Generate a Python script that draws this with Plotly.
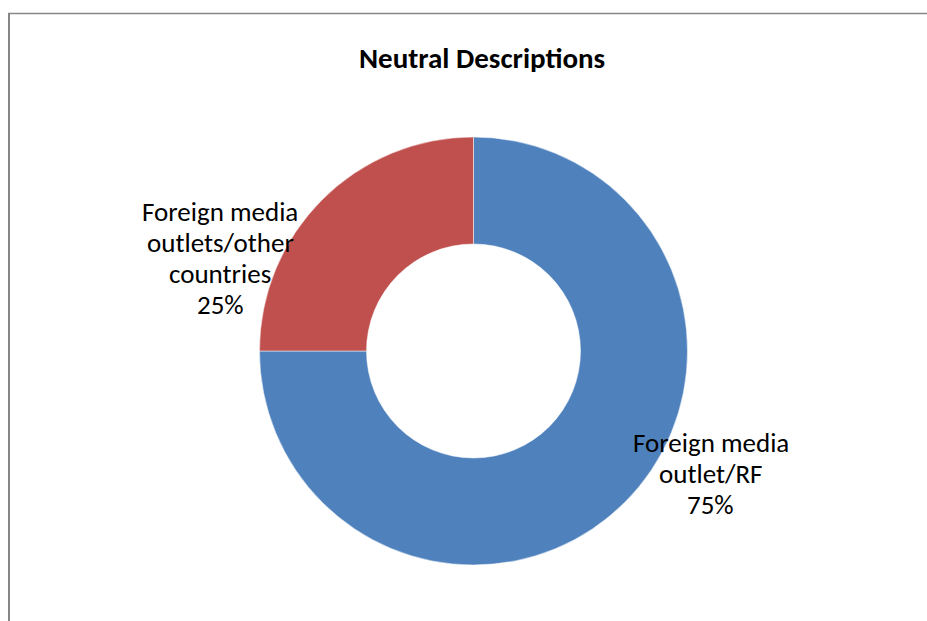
import plotly.graph_objects as go

# Share of neutral descriptions by source
categories = ["Foreign media|outlet/RF", "Foreign media|outlets/other|countries"]
values = [75, 25]
colors = ["#4F81BD", "#C0504D"]
title = "Neutral Descriptions"

W, H = 927, 621
FONT = "Carlito, Lato, 'Liberation Sans', sans-serif"
LINE_GAP = 31  # pixel distance between label lines

# Pie placement (pixel centre and radius) converted to paper fractions
cx, cy, r = 473.5, 351, 214
domain_x = [(cx - r) / W, (cx + r) / W]
domain_y = [(H - cy - r) / H, (H - cy + r) / H]

fig = go.Figure(
    go.Pie(
        labels=[c.replace("|", " ") for c in categories],
        values=values,
        hole=0.5,
        sort=False,
        direction="clockwise",
        rotation=0,
        marker=dict(colors=colors, line=dict(color="white", width=0.5)),
        textinfo="none",
        hoverinfo="label+percent",
        domain=dict(x=domain_x, y=domain_y),
        showlegend=False,
    )
)

# Outside labels beside each slice, one annotation per text line
total = sum(values)
label_pos = [(710.5, 473), (220, 258)]
annotations = []
for name, v, (px, py) in zip(categories, values, label_pos):
    lines = name.split("|") + [f"{round(100 * v / total)}%"]
    top = py - LINE_GAP * (len(lines) - 1) / 2
    for i, line in enumerate(lines):
        annotations.append(
            dict(
                text=line,
                x=px / W,
                y=1 - (top + i * LINE_GAP) / H,
                xref="paper",
                yref="paper",
                xanchor="center",
                yanchor="middle",
                showarrow=False,
                font=dict(family=FONT, size=27, color="#000000"),
            )
        )

annotations.append(
    dict(
        text=f"<b>{title}</b>",
        x=481.5 / W,
        y=1 - 58 / H,
        xref="paper",
        yref="paper",
        xanchor="center",
        yanchor="middle",
        showarrow=False,
        font=dict(family=FONT, size=29, color="#000000"),
    )
)

fig.update_layout(
    width=W,
    height=H,
    margin=dict(l=0, r=0, t=0, b=0),
    paper_bgcolor="white",
    plot_bgcolor="white",
    annotations=annotations,
    shapes=[
        # chart-area frame (left and top edges visible)
        dict(type="line", xref="paper", yref="paper",
             x0=9 / W, x1=9 / W, y0=-0.05, y1=1 - 13 / H,
             line=dict(color="#868686", width=2), layer="above"),
        dict(type="line", xref="paper", yref="paper",
             x0=8 / W, x1=1.05, y0=1 - 13.5 / H, y1=1 - 13.5 / H,
             line=dict(color="#868686", width=1.5), layer="above"),
    ],
)

fig.write_html("out.html")
